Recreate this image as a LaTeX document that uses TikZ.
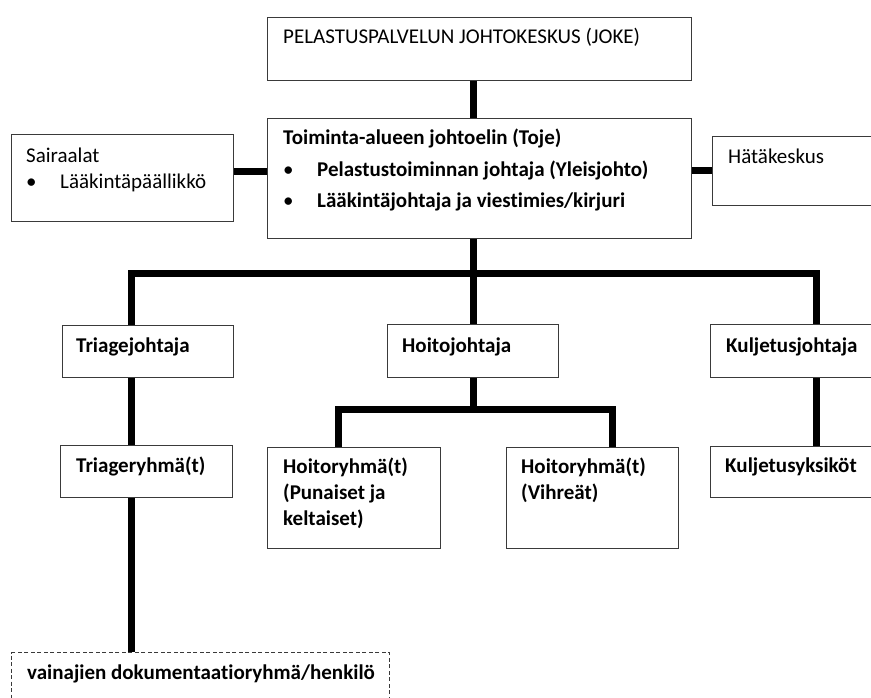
\documentclass[tikz,border=0pt]{standalone}
\usepackage{fontspec}
\setmainfont[Ligatures=NoCommon]{Carlito}
\begin{document}
\begin{tikzpicture}[x=1pt,y=-1pt,
  box/.style={draw=boxgray, line width=1.1pt, inner sep=0pt, anchor=north west},
  link/.style={line width=7pt, line join=miter, line cap=butt},
  lbl/.style={anchor=base west, inner sep=0pt, font=\fontsize{21}{25}\selectfont},
  blbl/.style={lbl, font=\fontsize{21}{25}\selectfont\bfseries},
  dot/.style={anchor=base west, inner sep=0pt, font=\fontsize{21}{25}\selectfont}]
\definecolor{boxgray}{HTML}{3A3A3A}
\useasboundingbox (0,0) rectangle (871,697);
\clip (0,0) rectangle (871,697);
\fill[white] (0,0) rectangle (871,697);

% boxes
\node[box, minimum width=424pt, minimum height=63pt]  (joke) at (267,17)  {};
\node[box, minimum width=424pt, minimum height=120pt] (toje) at (267,118) {};
\node[box, minimum width=222pt, minimum height=87pt]  (sair) at (11,134)  {};
\node[box, minimum width=170pt, minimum height=69pt]  (hata) at (712,136) {};
\node[box, minimum width=171pt, minimum height=52pt]  (triJ) at (62,325)  {};
\node[box, minimum width=171pt, minimum height=53pt]  (hoiJ) at (387,324) {};
\node[box, minimum width=172pt, minimum height=53pt]  (kulJ) at (710,324) {};
\node[box, minimum width=172pt, minimum height=52pt]  (triR) at (60,445)  {};
\node[box, minimum width=173pt, minimum height=101pt] (hoR1) at (267,447) {};
\node[box, minimum width=172pt, minimum height=101pt] (hoR2) at (506,447) {};
\node[box, minimum width=172pt, minimum height=51pt]  (kulR) at (710,446) {};
\node[box, dash pattern=on 4pt off 2.5pt, minimum width=378pt, minimum height=60pt] (vain) at (11,652) {};

% texts
\node[lbl]  (tJoke) at (283,43)  {PELASTUSPALVELUN JOHTOKESKUS (JOKE)};
\node[blbl] (tToje) at (283,144) {Toiminta-alueen johtoelin (Toje)};
\node[dot]  (bT1)   at (283,176) {\textbullet};
\node[blbl] (tT1)   at (317,176) {Pelastustoiminnan johtaja (Yleisjohto)};
\node[dot]  (bT2)   at (283,207) {\textbullet};
\node[blbl] (tT2)   at (317,207) {Lääkintäjohtaja ja viestimies/kirjuri};
\node[lbl]  (tSair) at (26,162)  {Sairaalat};
\node[dot]  (bS)    at (26,188)  {\textbullet};
\node[lbl]  (tS1)   at (60,188)  {Lääkintäpäällikkö};
\node[lbl]  (tHata) at (728,163) {Hätäkeskus};
\node[blbl] (tTriJ) at (76,352)  {Triagejohtaja};
\node[blbl] (tHoiJ) at (402,352) {Hoitojohtaja};
\node[blbl] (tKulJ) at (726,352) {Kuljetusjohtaja};
\node[blbl] (tTriR) at (76,472)  {Triageryhmä(t)};
\node[blbl] (tHoR1a) at (283,473) {Hoitoryhmä(t)};
\node[blbl] (tHoR1b) at (283,499) {(Punaiset ja};
\node[blbl] (tHoR1c) at (283,525) {keltaiset)};
\node[blbl] (tHoR2a) at (521,473) {Hoitoryhmä(t)};
\node[blbl] (tHoR2b) at (521,499) {(Vihreät)};
\node[blbl] (tKulR) at (725,472) {Kuljetusyksiköt};
\node[blbl] (tVain) at (27,679)  {vainajien dokumentaatioryhmä/henkilö};

% junction points of the thick connectors
\coordinate (spine) at (473,273);
\coordinate (busL)  at (131,273);
\coordinate (busR)  at (816,273);
\coordinate (sideL) at (0,171);
\coordinate (sideR) at (0,170);
\coordinate (hoiM)  at (473,409);
\coordinate (hoiL)  at (338,409);
\coordinate (hoiR)  at (612,409);

% connectors
\draw[link] (spine |- joke.south) -- (spine |- toje.north);
\draw[link] (sair.east |- sideL) -- (toje.west |- sideL);
\draw[link] (toje.east |- sideR) -- (hata.west |- sideR);
\draw[link] (spine |- toje.south) -- (spine |- hoiJ.north);
\draw[link] (busL |- triJ.north) -- (busL) -- (busR) -- (busR |- kulJ.north);
\draw[link] (busL |- triJ.south) -- (busL |- triR.north);
\draw[link] (busL |- triR.south) -- (busL |- vain.north);
\draw[link] (hoiM |- hoiJ.south) -- (hoiM);
\draw[link] (hoiL |- hoR1.north) -- (hoiL) -- (hoiR) -- (hoiR |- hoR2.north);
\draw[link] (busR |- kulJ.south) -- (busR |- kulR.north);
\end{tikzpicture}
\end{document}
